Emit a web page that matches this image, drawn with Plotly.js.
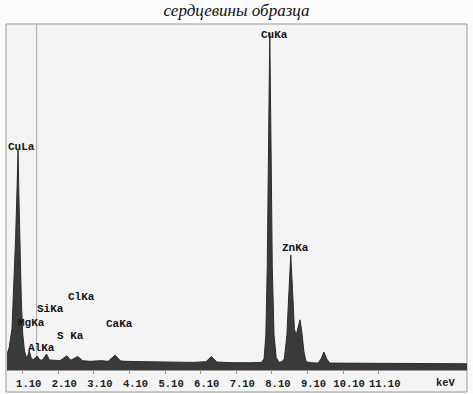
<!DOCTYPE html>
<html>
<head>
<meta charset="utf-8">
<script src="https://cdn.plot.ly/plotly-3.0.1.min.js"></script>
<style>html,body{margin:0;padding:0;background:#fbfbfb;}#chart{width:473px;height:394px;}</style>
</head>
<body>
<div id="chart"></div>
<script>
// Energy (keV) and counts
const energy = [0.66,0.72,0.80,0.85,0.90,0.94,0.97,0.99,1.02,1.06,1.10,1.15,1.20,1.22,1.285,1.34,1.40,1.51,1.58,1.66,1.77,1.85,2.00,2.15,2.34,2.45,2.645,2.78,3.00,3.30,3.50,3.69,3.85,4.00,4.50,5.00,5.50,5.90,6.25,6.40,6.55,7.00,7.50,7.80,7.88,7.93,7.97,8.01,8.04,8.07,8.11,8.16,8.22,8.30,8.38,8.45,8.52,8.58,8.63,8.68,8.73,8.78,8.84,8.89,8.94,9.00,9.06,9.20,9.40,9.48,9.56,9.64,9.72,10.0,10.5,11.0,11.5,12.0,12.5,13.0,13.6];
const counts = [45,65,120,235,380,520,636,520,347,205,105,55,38,34,55,34,30,40,29,29,46,29,28,27,41,28,39,27,25,27,25,43,26,25,24,23,22,22,24,39,23,21,21,22,32,100,300,700,974,700,300,100,36,22,24,32,100,230,332,230,120,100,125,145,110,52,24,21,20,32,52,32,20,20,20,19,19,19,18,18,18];
const tickVals = [1.1,2.1,3.1,4.1,5.1,6.1,7.1,8.1,9.1,10.1,11.1];
const tickText = ["1.10","2.10","3.10","4.10","5.10","6.10","7.10","8.10","9.10","10.10","11.10"];
const peakNames = ["CuLa","MgKa","SiKa","ClKa","S\u00a0Ka","AlKa","CaKa","CuKa","ZnKa"];
const peakLabelE = [1.072,1.342,1.867,2.757,2.429,1.634,3.813,8.173,8.763];
const peakLabelV = [645,137,176,211,98,64,133,968,353];
const cursorE = 1.49;

const trace = {
  x: energy, y: counts, type: 'scatter', mode: 'lines',
  fill: 'tozeroy', line: {color: '#2b2b2b', width: 1}, fillcolor: '#3a3a3a',
  hoverinfo: 'skip'
};
const monoFont = {family: 'Liberation Mono, monospace', size: 11, color: '#151515'};
const annotations = peakNames.map((n, i) => ({
  x: peakLabelE[i], y: peakLabelV[i], xref: 'x', yref: 'y',
  text: '<b>' + n + '</b>', showarrow: false, font: monoFont,
  xanchor: 'center', yanchor: 'middle'
}));
annotations.push({
  x: 451.7/473, y: -12.7/346, xref: 'paper', yref: 'paper', text: '<b>keV</b>',
  showarrow: false, font: {family: 'Liberation Mono, monospace', size: 10.5, color: '#222'},
  xanchor: 'center', yanchor: 'middle'
});
const layout = {
  width: 473, height: 394,
  margin: {l: 7, r: 6, t: 24, b: 24, pad: 0},
  paper_bgcolor: '#fbfbfb', plot_bgcolor: '#f4f4f4',
  showlegend: false,
  title: {text: '<i>сердцевины образца</i>', font: {family: 'Liberation Serif, serif', size: 17, color: '#111'},
          x: 0.5, xref: 'container', xanchor: 'center', y: 1 - 10/394, yref: 'container', yanchor: 'middle'},
  xaxis: {range: [0.659, 13.58], tickvals: tickVals, ticktext: tickText,
          showgrid: false, zeroline: false, showline: true, linecolor: '#999', linewidth: 1,
          ticks: 'outside', ticklen: 3, tickcolor: '#999', ticklabelshift: 6,
          tickfont: {family: 'Liberation Mono, monospace', size: 10.5, color: '#222', weight: 'bold'}},
  yaxis: {range: [0, 1000], visible: false, showgrid: false, zeroline: false},
  shapes: [
    {type: 'rect', xref: 'paper', yref: 'paper', x0: -1/460, x1: 1, y0: -22/346, y1: 1,
     line: {color: '#9a9a9a', width: 1}, fillcolor: '#f4f4f4', layer: 'below'},
    {type: 'line', xref: 'x', yref: 'paper', x0: cursorE, x1: cursorE, y0: 0, y1: 1,
     line: {color: '#aaaaaa', width: 1}, layer: 'below'}
  ],
  annotations: annotations
};
Plotly.newPlot('chart', [trace], layout, {staticPlot: true, displayModeBar: false});
</script>
</body>
</html>
